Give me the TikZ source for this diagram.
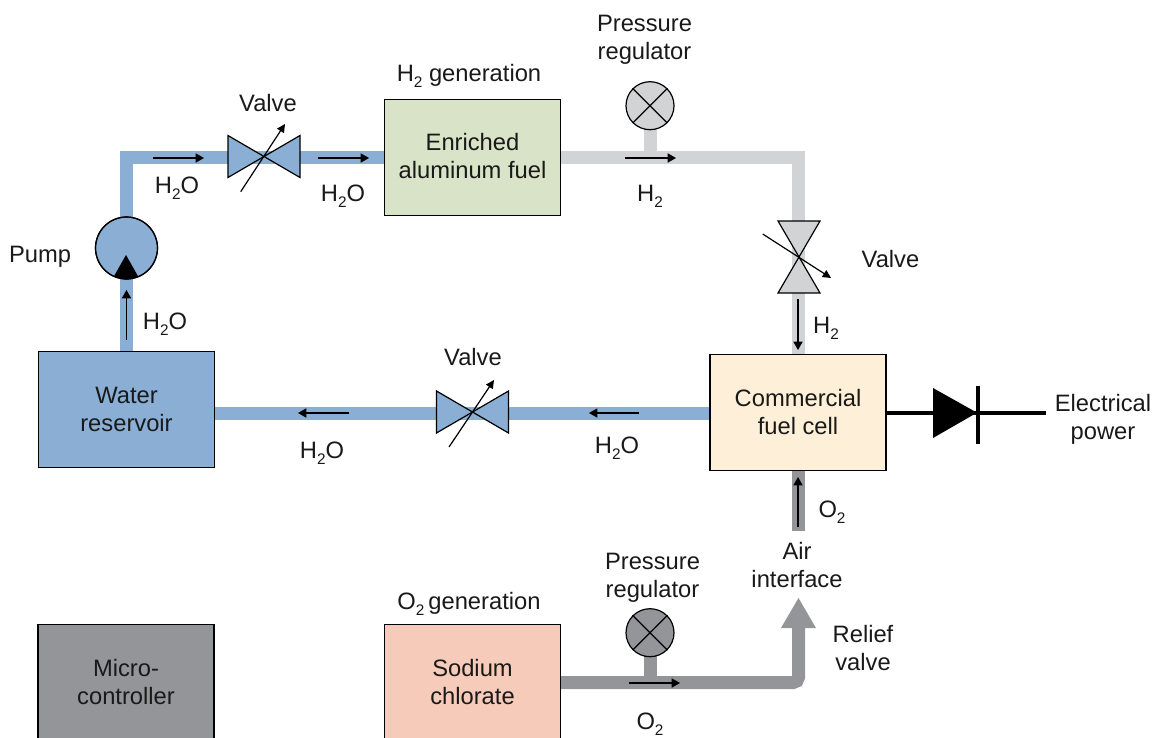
\documentclass[tikz,border=0pt]{standalone}
\usepackage{fontspec}
\setmainfont{Liberation Sans}
\usetikzlibrary{arrows.meta}
\definecolor{wblue}{HTML}{8AAED4}
\definecolor{lgray}{HTML}{D1D3D4}
\definecolor{dgray}{HTML}{939598}
\definecolor{fgreen}{HTML}{D9E3C8}
\definecolor{fcream}{HTML}{FEF0D8}
\definecolor{fpink}{HTML}{F6CBB9}
\newcommand{\subtwo}{\lower4.6pt\hbox{\fontsize{11.5}{12}\selectfont 2}}
\newcommand{\HHO}{H\subtwo O}
\newcommand{\HH}{H\subtwo}
\newcommand{\OO}{O\subtwo}
\newcommand{\shifted}[2]{\raisebox{#1}{#2}}
\tikzset{
  x=0.75pt,y=-0.75pt,
  txt/.style={font=\fontsize{17.8}{21}\selectfont,align=center,inner sep=0pt,text=black!90},
  tank/.style={draw=black,line width=0.9pt,minimum width=132pt,minimum height=87.2pt,inner sep=0pt,txt},
  pipe/.style={line width=9.75pt,line cap=butt,line join=miter},
  flow/.style={line width=0.9pt,-{Triangle[length=6.2pt,width=6.8pt]}},
  adjust/.style={line width=0.9pt,-{Triangle[length=6.2pt,width=6pt]}},
  valvebody/.style={draw=black,line width=0.9pt},
  gauge/.style={circle,draw=black,line width=0.9pt,minimum size=36pt,inner sep=0pt},
  pics/hvalve/.style={code={\filldraw[valvebody,fill=#1] (-36,-21)--(36,21)--(36,-21)--(-36,21)--cycle;}},
  pics/vvalve/.style={code={\filldraw[valvebody,fill=#1] (-21,-36)--(21,-36)--(-21,36)--(21,36)--cycle;}},
}
\begin{document}
\begin{tikzpicture}
\useasboundingbox (0,0) rectangle (1152,738);
% tanks
\node[tank,fill=wblue]  (res)  at (126.5,409.5) {Water\\reservoir};
\node[tank,fill=fgreen] (fuel) at (472.5,157.5) {\shifted{2.2pt}{Enriched}\\\shifted{2.2pt}{aluminum fuel}};
\node[tank,fill=fcream] (cell) at (798,412.5) {\shifted{-3pt}{Commercial}\\\shifted{-3pt}{fuel cell}};
\node[tank,fill=dgray]  (mcu)  at (126,682.5) {Micro-\\controller};
\node[tank,fill=fpink]  (sod)  at (472.5,682.5) {Sodium\\chlorate};
% junctions
\coordinate (pumpc) at (126.5,248);
\coordinate (c1) at (126.5,158);
\coordinate (v1) at (264,156.5);
\coordinate (c2) at (798.5,158);
\coordinate (v2) at (799,257);
\coordinate (v3) at (472.5,412);
\coordinate (rg1) at (650,105.7);
\coordinate (rg2) at (650,632.7);
\coordinate (c3) at (798.5,682.5);
\coordinate (relief) at (798.5,628);
\coordinate (air) at (798.5,531);
% pipes
\draw[pipe,wblue] (res.north -| pumpc) -- (c1) -- (fuel.west |- c1);
\draw[pipe,wblue] (cell.west |- 0,413) -- (res.east |- 0,413);
\draw[pipe,lgray] (fuel.east |- c2) -- (c2) -- (cell.north -| c2);
\draw[pipe,lgray] (rg1) -- (rg1 |- c2);
\draw[pipe,dgray] (air) -- (cell.south -| air);
\draw[pipe,dgray] (rg2) -- (rg2 |- c3);
\draw[pipe,dgray,rounded corners=4pt] (sod.east |- c3) -- (c3) -- (relief);
\fill[dgray] (781,628) -- (798.5,598) -- (816,628) -- cycle;
% pump
\node[circle,draw=black,line width=0.9pt,fill=wblue,minimum size=46.5pt,inner sep=0pt] (pump) at (pumpc) {};
\begin{scope}
\clip (pumpc) circle (23.25pt);
\fill[black] (126,255) -- (109,285) -- (143,285) -- cycle;
\end{scope}
\draw[line width=0.9pt] (pump) circle (23.25pt);
% regulators
\node[gauge,fill=lgray] (reg1) at (rg1) {};
\draw[line width=0.9pt] (reg1.45) -- (reg1.225) (reg1.135) -- (reg1.315);
\node[gauge,fill=dgray] (reg2) at (rg2) {};
\draw[line width=0.9pt] (reg2.45) -- (reg2.225) (reg2.135) -- (reg2.315);
% valves
\pic at (v1) {hvalve=wblue};
\pic at (v2) {vvalve=lgray};
\pic at (v3) {hvalve=wblue};
\coordinate (a1s) at (240.7,191.7); \coordinate (a1e) at (285,124);
\coordinate (a2s) at (762.7,234);   \coordinate (a2e) at (831,278);
\coordinate (a3s) at (449,447);     \coordinate (a3e) at (494,380);
\draw[adjust] (a1s) -- (a1e);
\draw[adjust] (a2s) -- (a2e);
\draw[adjust] (a3s) -- (a3e);
% flow arrows
\coordinate (f1s) at (153,158);   \coordinate (f1e) at (204,158);
\coordinate (f2s) at (318,158);   \coordinate (f2e) at (369,158);
\coordinate (f3s) at (625,158);   \coordinate (f3e) at (676,158);
\coordinate (f4s) at (798,299);   \coordinate (f4e) at (798,350);
\coordinate (f5s) at (639,413);   \coordinate (f5e) at (589,413);
\coordinate (f6s) at (349,413);   \coordinate (f6e) at (298,413);
\coordinate (f7s) at (126.5,340); \coordinate (f7e) at (126.5,290);
\coordinate (f8s) at (798,527);   \coordinate (f8e) at (798,477);
\coordinate (f9s) at (629,683);   \coordinate (f9e) at (680,683);
\foreach \n in {1,...,9} \draw[flow] (f\n s) -- (f\n e);
% diode
\coordinate (pw) at (1046,412.7);
\draw[line width=3pt] (cell.east |- pw) -- (pw);
\fill[black] (933,388) -- (977,412.7) -- (933,438) -- cycle;
\draw[line width=3pt] (977.7,386) -- (977.7,444);
% labels
\node[txt] (l1) at (268,103) {Valve};
\node[txt] (l2) at (177,188) {\HHO};
\node[txt] (l3) at (343,196) {\HHO};
\node[txt] (l4) at (469,76) {\HH\ generation};
\node[txt] (l5) at (644.5,40) {Pressure\\regulator};
\node[txt] (l6) at (650,196) {\HH};
\node[txt] (l7) at (890.5,259) {Valve};
\node[txt] (l8) at (826,328) {\HH};
\node[txt] (l9) at (40,257) {Pump};
\node[txt] (l10) at (165,324) {\HHO};
\node[txt] (l11) at (473,357) {Valve};
\node[txt] (l12) at (322,453) {\HHO};
\node[txt] (l13) at (617,448) {\HHO};
\node[txt] (l14) at (1103,419) {Electrical\\power};
\node[txt] (l15) at (832,512) {\OO};
\node[txt] (l16) at (797,565) {Air\\interface};
\node[txt] (l17) at (863,648) {Relief\\valve};
\node[txt] (l18) at (652.5,578) {Pressure\\regulator};
\node[txt] (l19) at (469,604) {\OO\,generation};
\node[txt] (l20) at (650,724) {\OO};
\end{tikzpicture}
\end{document}
